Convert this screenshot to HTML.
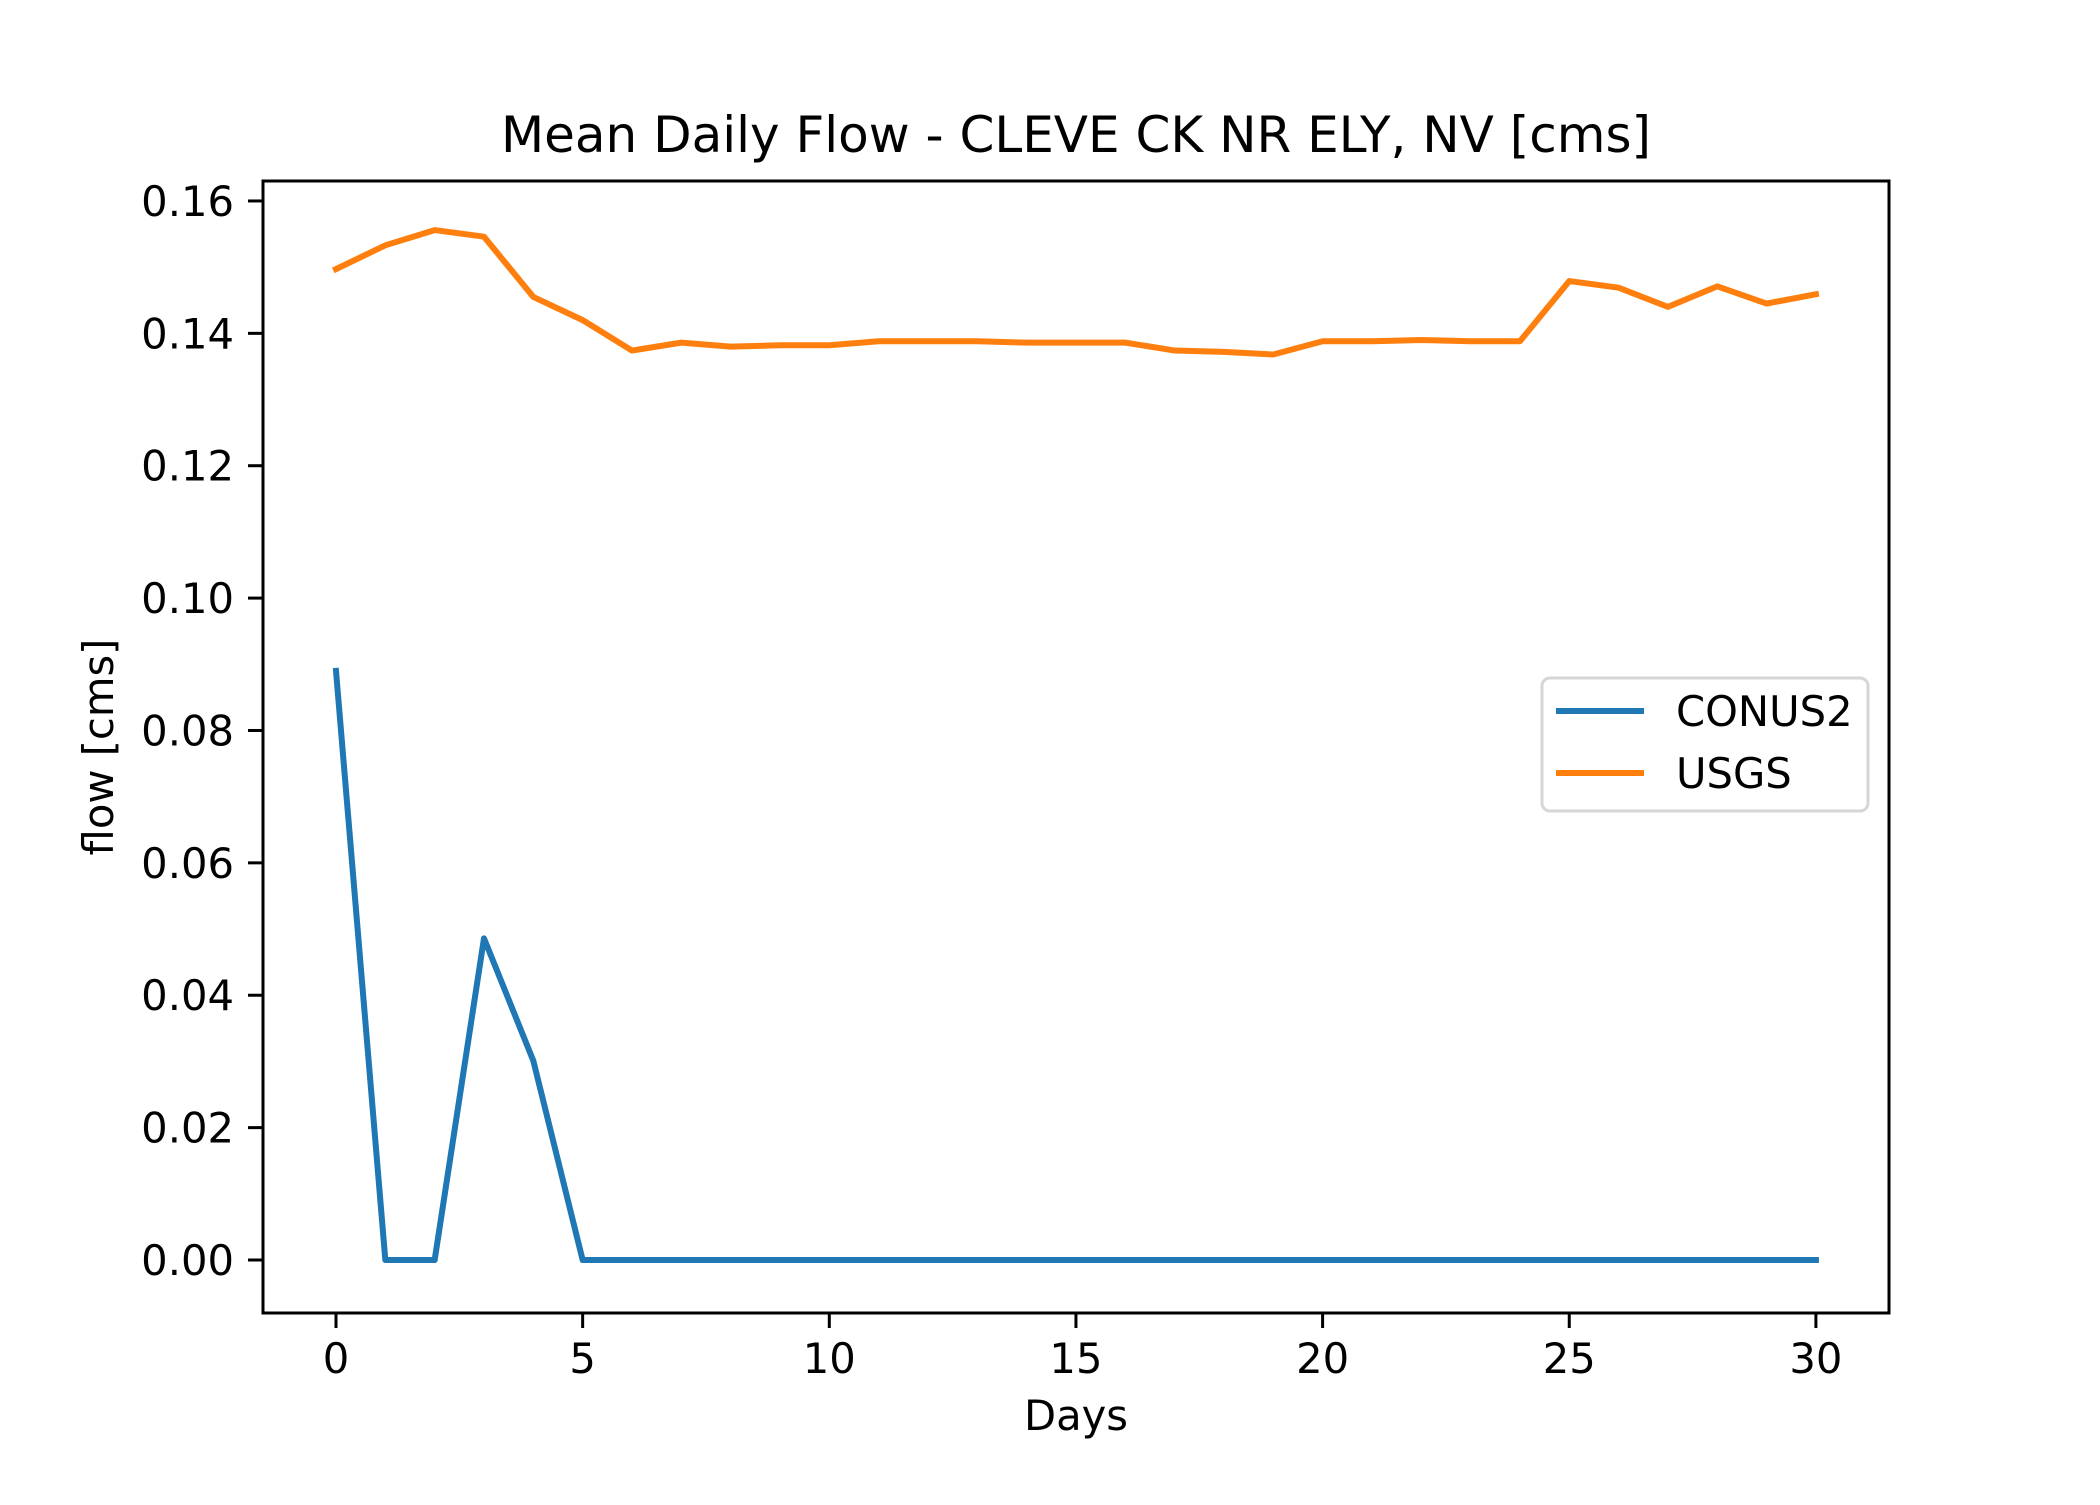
<!DOCTYPE html>
<html><head><meta charset="utf-8"><style>
html,body{margin:0;padding:0;background:#fff}
svg text{font-family:"DejaVu Sans","Liberation Sans",sans-serif;fill:#000}
</style></head><body>
<svg id="chart" width="2100" height="1500" viewBox="0 0 2100 1500" xmlns="http://www.w3.org/2000/svg">
<rect width="2100" height="1500" fill="#fff"/>
<text x="1076" y="152" font-size="50" text-anchor="middle">Mean Daily Flow - CLEVE CK NR ELY, NV [cms]</text>
<text x="1076" y="1430" font-size="41.7" text-anchor="middle">Days</text>
<text transform="translate(113,747) rotate(-90)" font-size="41.7" text-anchor="middle">flow [cms]</text>
<g id="plot"></g>
<rect x="263" y="181" width="1626" height="1132" fill="none" stroke="#000" stroke-width="3"/>
<g>
<rect x="1542" y="678" width="326" height="133" rx="8" fill="#fff" fill-opacity="0.8" stroke="#d6d6d6" stroke-width="3"/>
<line x1="1556" y1="711" x2="1644" y2="711" stroke="#1f77b4" stroke-width="6"/>
<text x="1676" y="726" font-size="41.7">CONUS2</text>
<line x1="1556" y1="773" x2="1644" y2="773" stroke="#ff7f0e" stroke-width="6"/>
<text x="1676" y="788" font-size="41.7">USGS</text>
</g>
</svg>
<script>
const days = [0,1,2,3,4,5,6,7,8,9,10,11,12,13,14,15,16,17,18,19,20,21,22,23,24,25,26,27,28,29,30];
const conus2 = [0.089,0,0,0.0486,0.0301,0,0,0,0,0,0,0,0,0,0,0,0,0,0,0,0,0,0,0,0,0,0,0,0,0,0];
const usgs = [0.1497,0.1533,0.1556,0.1546,0.1455,0.1420,0.1374,0.1386,0.1380,0.1382,0.1382,0.1388,0.1388,0.1388,0.1386,0.1386,0.1386,0.1374,0.1372,0.1368,0.1388,0.1388,0.1390,0.1388,0.1388,0.1479,0.1469,0.1440,0.1471,0.1445,0.1459];
const xTicks = [0,5,10,15,20,25,30];
const yTicks = [0,0.02,0.04,0.06,0.08,0.10,0.12,0.14,0.16];
const yTickLabels = ["0.00","0.02","0.04","0.06","0.08","0.10","0.12","0.14","0.16"];

const NS = "http://www.w3.org/2000/svg";
function xs(v){ return 336 + v * 49.33; }
function ys(v){ return 1260 - v * 6619; }
const g = document.getElementById('plot');
function mk(tag, attrs){ const e=document.createElementNS(NS,tag); for(const k in attrs) e.setAttribute(k,attrs[k]); return e; }

xTicks.forEach(t=>{
  const l = mk('line',{x1:xs(t),x2:xs(t),y1:1313,y2:1328,stroke:'#000','stroke-width':3});
  
  
  g.appendChild(l);
  const tx = mk('text',{x:xs(t),y:1373,'font-size':41.7,'text-anchor':'middle'});
  
  
  tx.textContent = String(t);
  g.appendChild(tx);
});
yTicks.forEach((t,i)=>{
  const l = mk('line',{x1:248,x2:263,y1:ys(t),y2:ys(t),stroke:'#000','stroke-width':3});
  
  
  g.appendChild(l);
  const tx = mk('text',{x:234,y:ys(t)+15,'font-size':41.7,'text-anchor':'end'});
  
  
  tx.textContent = yTickLabels[i];
  g.appendChild(tx);
});
function line(vals,color,name){
  const p = mk('polyline',{points:days.map((d,i)=>xs(d)+','+ys(vals[i])).join(' '),fill:'none',stroke:color,'stroke-width':6,'stroke-linejoin':'round','stroke-linecap':'square'});
  
  
  g.appendChild(p);
}
line(conus2,'#1f77b4','conus2-line');
line(usgs,'#ff7f0e','usgs-line');
</script>
</body></html>
